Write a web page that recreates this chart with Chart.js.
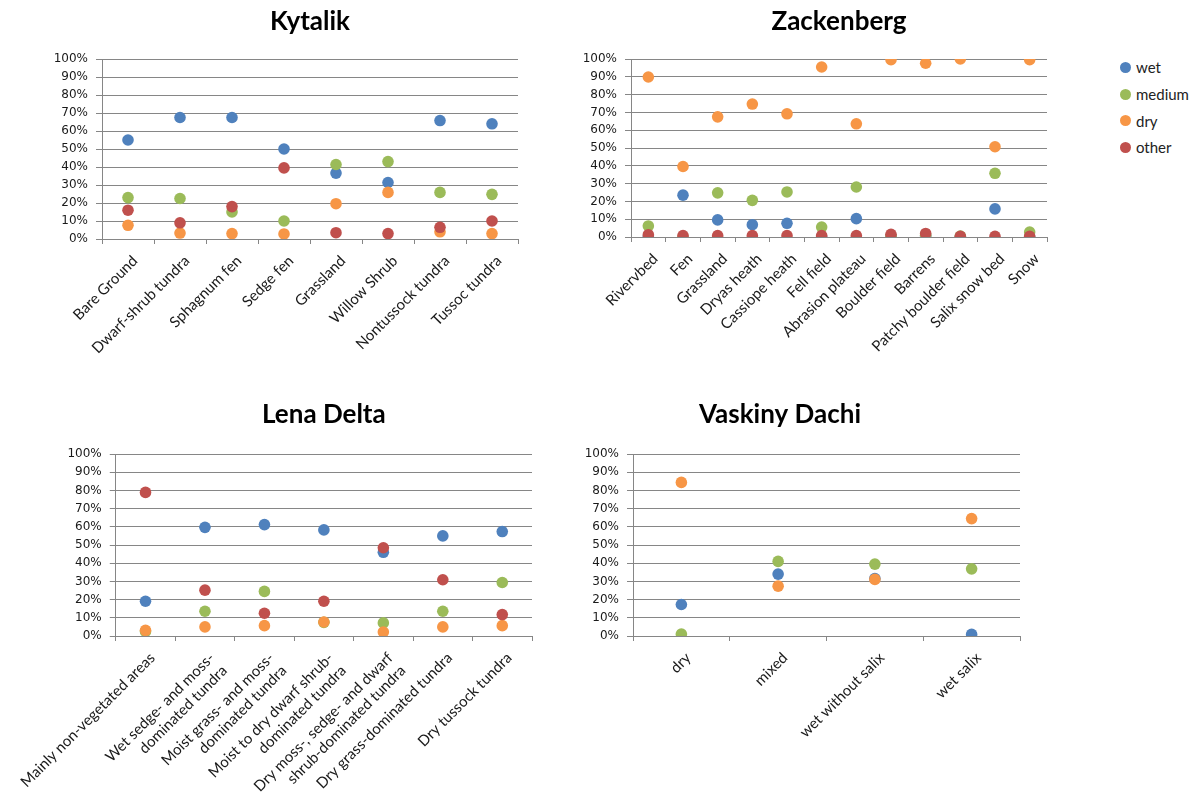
<!DOCTYPE html>
<html>
<head>
<meta charset="utf-8">
<title>Moisture classes by landscape unit</title>
<script src="https://cdn.jsdelivr.net/npm/chart.js@4"></script>
<style>
  body { margin: 0; background: #fff; width: 1196px; height: 793px; position: relative; overflow: hidden; }
  .site { position: absolute; }
  #legend { position: absolute; left: 1120px; top: 54px; font-family: Lato, sans-serif; font-size: 15px; color: #222; }
  #legend div { height: 26.7px; display: flex; align-items: center; }
  #legend .dot { width: 11px; height: 11px; border-radius: 50%; display: inline-block; margin-right: 5px; }
</style>
</head>
<body>
<div class="site" style="left:0;top:0;width:540px;height:400px"><canvas id="kytalik"></canvas></div>
<div class="site" style="left:540px;top:0;width:520px;height:400px"><canvas id="zackenberg"></canvas></div>
<div class="site" style="left:0;top:393px;width:540px;height:400px"><canvas id="lena"></canvas></div>
<div class="site" style="left:540px;top:393px;width:654px;height:400px"><canvas id="vaskiny"></canvas></div>
<div id="legend"></div>

<script>
// share of each moisture class per landscape unit, in percent
const seriesNames = ["wet", "medium", "dry", "other"];
const seriesColors = ["#4f81bd", "#9bbb59", "#f79646", "#c0504d"];
const yTicks = [0, 10, 20, 30, 40, 50, 60, 70, 80, 90, 100];

const kytalikLabels = ["Bare Ground", "Dwarf-shrub tundra", "Sphagnum fen", "Sedge fen", "Grassland", "Willow Shrub", "Nontussock tundra", "Tussoc tundra"];
const kytalikWet = [55, 67.5, 67.5, 50, 36.6, 31.4, 65.8, 64];
const kytalikMedium = [23, 22.5, 15, 10, 41.4, 43, 25.9, 24.8];
const kytalikDry = [7.6, 3.3, 3, 2.8, 19.6, 25.9, 4, 3];
const kytalikOther = [16, 9, 18, 39.5, 3.5, 3, 6.5, 10];

const zackenbergLabels = ["Rivervbed", "Fen", "Grassland", "Dryas heath", "Cassiope heath", "Fell field", "Abrasion plateau", "Boulder field", "Barrens", "Patchy boulder field", "Salix snow bed", "Snow"];
const zackenbergWet = [0, 23.5, 9.6, 6.9, 7.7, 0, 10.3, 0.5, 0.5, 0, 15.8, 0];
const zackenbergMedium = [6.2, 0, 24.8, 20.6, 25.3, 5.6, 28.1, 0.5, 1, 0.5, 35.8, 2.8];
const zackenbergDry = [89.9, 39.6, 67.5, 74.7, 69.2, 95.5, 63.6, 99.6, 97.6, 100, 50.7, 99.6];
const zackenbergOther = [1.3, 0.8, 0.8, 0.8, 0.8, 0.8, 0.8, 1.5, 2, 0.4, 0.4, 0.4];

const lenaLabels = [
  "Mainly non-vegetated areas",
  ["Wet sedge- and moss-", "dominated tundra"],
  ["Moist grass- and moss-", "dominated tundra"],
  ["Moist to dry dwarf shrub-", "dominated tundra"],
  ["Dry moss-, sedge- and dwarf", "shrub-dominated tundra"],
  "Dry grass-dominated tundra",
  "Dry tussock tundra"
];
const lenaWet = [19.1, 59.7, 61.2, 58.3, 46, 55, 57.4];
const lenaMedium = [2.5, 13.6, 24.5, 7.5, 7.2, 13.6, 29.4];
const lenaDry = [3.1, 5, 5.7, 7.7, 2.2, 5, 5.7];
const lenaOther = [78.9, 25.2, 12.5, 19.1, 48.5, 30.9, 11.8];

const vaskinyLabels = ["dry", "mixed", "wet without salix", "wet salix"];
const vaskinyWet = [17.3, 34, 31.6, 0.9];
const vaskinyMedium = [1.1, 41, 39.5, 36.9];
const vaskinyDry = [84.4, 27.4, 31.1, 64.5];

const GRID = "#868686";
const TEXT = "#1a1a1a";

function drawSite(id, title, labels, values, frame) {
  const datasets = values.map((data, i) => ({
    type: "line",
    label: seriesNames[i],
    data: data,
    showLine: false,
    pointRadius: 5.8,
    pointHoverRadius: 5.8,
    pointBorderWidth: 0,
    backgroundColor: seriesColors[i],
    borderColor: seriesColors[i],
    order: 3 - i // later classes sit on top
  }));

  return new Chart(document.getElementById(id), {
    type: "line",
    data: { labels: labels, datasets: datasets },
    options: {
      animation: false,
      responsive: true,
      maintainAspectRatio: false,
      layout: { padding: { left: 0, right: frame.right, top: 0, bottom: 0 } },
      plugins: {
        legend: { display: false },
        tooltip: { enabled: false },
        title: {
          display: true,
          text: title,
          fullSize: frame.fullTitle,
          color: "#000",
          font: { family: "Lato", size: 26, weight: "bold" },
          padding: { top: 6, bottom: frame.titleGap }
        }
      },
      scales: {
        x: {
          offset: true,
          grid: { offset: true, drawOnChartArea: false, tickLength: 5, color: GRID },
          border: { color: GRID },
          ticks: {
            autoSkip: false, minRotation: 45, maxRotation: 45,
            padding: 8, labelOffset: 7,
            color: TEXT, font: { family: "Lato", size: 15 }
          },
          afterFit: s => { s.height = frame.xHeight; }
        },
        y: {
          min: 0,
          max: 100,
          grid: { color: GRID, tickLength: 6 },
          border: { color: GRID },
          afterBuildTicks: s => { s.ticks = yTicks.map(v => ({ value: v })); },
          ticks: {
            padding: 8, color: TEXT,
            font: { family: "DejaVu Sans", size: 12 },
            callback: v => v + "%"
          },
          afterFit: s => { s.width = frame.yWidth; }
        }
      }
    }
  });
}

drawSite("kytalik", "Kytalik", kytalikLabels,
  [kytalikWet, kytalikMedium, kytalikDry, kytalikOther],
  { yWidth: 102, right: 22, titleGap: 21.8, xHeight: 161, fullTitle: false });
drawSite("zackenberg", "Zackenberg", zackenbergLabels,
  [zackenbergWet, zackenbergMedium, zackenbergDry, zackenbergOther],
  { yWidth: 91, right: 13, titleGap: 21.8, xHeight: 163, fullTitle: false });
drawSite("lena", "Lena Delta", lenaLabels,
  [lenaWet, lenaMedium, lenaDry, lenaOther],
  { yWidth: 113, right: 8, titleGap: 23.8, xHeight: 157, fullTitle: false });
drawSite("vaskiny", "Vaskiny Dachi", vaskinyLabels,
  [vaskinyWet, vaskinyMedium, vaskinyDry],
  { yWidth: 93, right: 174, titleGap: 23.8, xHeight: 157, fullTitle: true });

// shared legend for the four panels
const legend = document.getElementById("legend");
seriesNames.forEach((name, i) => {
  const row = document.createElement("div");
  row.innerHTML = `<span class="dot" style="background:${seriesColors[i]}"></span>${name}`;
  legend.append(row);
});
</script>
</body>
</html>
